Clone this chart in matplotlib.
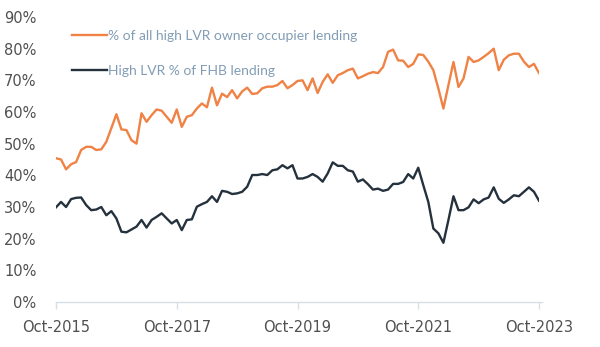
import matplotlib
matplotlib.use("Agg")
import matplotlib.pyplot as plt
import numpy as np

# monthly series, Oct-2015 .. Oct-2023 (values in %)
owner_occ = [45.4, 45.0, 41.9, 43.5, 44.2, 48.0, 49.0, 49.0, 48.0, 48.2,
             50.6, 54.9, 59.3, 54.5, 54.3, 51.1, 50.0, 59.6, 56.9, 59.0,
             60.8, 60.4, 58.5, 56.6, 60.8, 55.3, 58.5, 59.0, 61.1, 62.7,
             61.5, 67.7, 62.1, 65.8, 64.7, 66.9, 64.3, 66.5, 67.7, 65.7,
             65.9, 67.5, 68.0, 68.0, 68.5, 69.8, 67.5, 68.5, 69.8,
             70.0, 66.9, 70.6, 66.0, 69.5, 71.9, 69.2, 71.6, 72.3, 73.2,
             73.7, 70.6, 71.3, 72.1, 72.6, 72.3, 74.2, 79.0, 79.7, 76.3,
             76.2, 74.2, 75.2, 78.2, 78.0, 75.9, 73.2, 67.4, 61.1, 68.5,
             75.8, 67.9, 70.6, 77.4, 75.8, 76.3, 77.4, 78.6, 80.0, 73.2,
             76.5, 77.9, 78.4, 78.4, 75.9, 74.2, 75.2, 72.3]

fhb = [29.9, 31.6, 30.0, 32.5, 32.9, 33.0, 30.6, 29.0, 29.2, 30.0,
       27.4, 28.7, 26.4, 22.2, 22.0, 22.9, 23.8, 25.9, 23.5, 25.9,
       26.9, 28.0, 26.4, 24.8, 25.9, 22.7, 25.9, 26.1, 30.1, 30.9,
       31.6, 33.4, 31.6, 35.1, 34.8, 34.1, 34.3, 34.8, 36.4, 40.1,
       40.1, 40.4, 40.1, 41.6, 41.9, 43.2, 42.2, 43.2, 39.0,
       39.0, 39.5, 40.4, 39.5, 38.0, 40.6, 44.1, 43.0, 43.0, 41.6,
       41.2, 38.0, 38.7, 37.2, 35.5, 35.8, 35.1, 35.5, 37.3, 37.3,
       37.9, 40.4, 39.0, 42.4, 36.9, 31.6, 23.2, 21.7, 18.7, 25.9,
       33.4, 29.0, 29.0, 29.9, 32.4, 31.2, 32.4, 33.0, 36.2, 32.6,
       31.3, 32.4, 33.7, 33.4, 34.8, 36.2, 34.8, 32.0]

tick_pos = [0, 24, 48, 72, 96]
tick_labels = ["Oct-2015", "Oct-2017", "Oct-2019", "Oct-2021", "Oct-2023"]
y_ticks = list(range(0, 91, 10))

months = np.arange(len(owner_occ))

fig = plt.figure(figsize=(6, 3.47), dpi=100)
ax = fig.add_axes([56 / 600, 1 - 302 / 347, (539 - 56) / 600, (302 - 17) / 347])

ax.plot(months, owner_occ, color="#EF8244", lw=1.7,
        label="% of all high LVR owner occupier lending")
ax.plot(months, fhb, color="#25323D", lw=1.7,
        label="High LVR % of FHB lending")

ax.set_xlim(0, 96)
ax.set_ylim(0, 90)
ax.set_xticks(tick_pos)
ax.set_xticklabels(tick_labels)
ax.set_yticks(y_ticks)
ax.set_yticklabels([f"{v}%" for v in y_ticks])

for s in ["top", "right", "left"]:
    ax.spines[s].set_visible(False)
ax.spines["bottom"].set_color("#D6DEE6")
ax.spines["bottom"].set_linewidth(1.0)
ax.spines["bottom"].set_bounds(0, 96.6)

ax.tick_params(axis="y", length=0, pad=14, labelsize=10.5, labelcolor="#505050")
ax.tick_params(axis="x", length=5, width=1, color="#D6DEE6", pad=8,
               labelsize=10.5, labelcolor="#505050")

leg = fig.legend(loc="upper left", bbox_to_anchor=(72 / 600, 1 - 30 / 347),
                 frameon=False, borderpad=0, borderaxespad=0,
                 handlelength=2.5, handletextpad=0.1, labelspacing=1.65,
                 prop={"family": "Lato", "size": 10})
for t in leg.get_texts():
    t.set_color("#829DB5")

fig.savefig("out.png", dpi=100)
